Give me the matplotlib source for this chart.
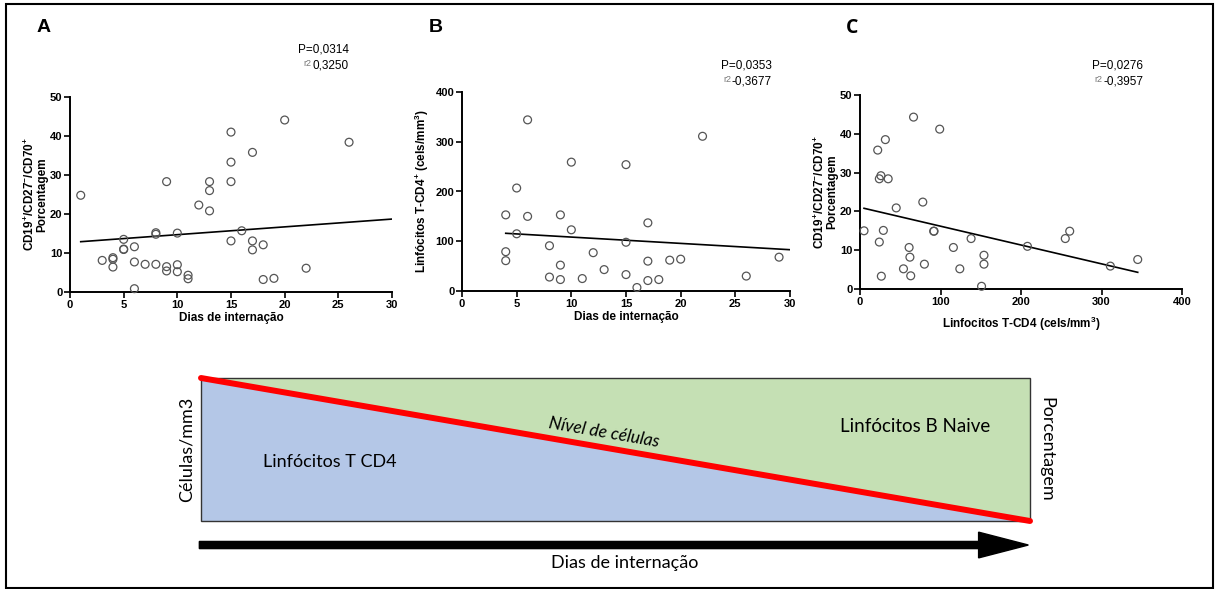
import numpy as np
import matplotlib
matplotlib.use('Agg')
import matplotlib.pyplot as plt
from matplotlib.patches import Polygon, Rectangle, FancyArrow

plt.rcParams['font.family'] = ['Liberation Sans', 'DejaVu Sans']
plt.rcParams['mathtext.default'] = 'regular'

# Panel A: days of hospitalization vs CD19+/CD27-/CD70+ (%)
a_days = [1, 3, 4, 4, 4, 5, 5, 5, 6, 6, 6, 7, 8, 8, 8, 9, 9, 9, 10, 10, 10, 11, 11,
          12, 13, 13, 13, 15, 15, 15, 15, 16, 17, 17, 17, 18, 18, 19, 20, 22, 26]
a_pct = [24.8, 8.1, 8.8, 8.4, 6.4, 13.5, 10.9, 11.0, 11.6, 7.7, 0.85, 7.1, 15.2, 14.8, 7.1,
         28.3, 6.5, 5.4, 15.1, 7.0, 5.2, 4.3, 3.4, 22.3, 28.3, 26.0, 20.8, 41.0, 33.3,
         28.3, 13.1, 15.7, 35.8, 13.1, 10.8, 12.1, 3.2, 3.5, 44.1, 6.1, 38.4]
a_fit_x = [1, 30]
a_fit_y = [12.9, 18.7]

# Panel B: days of hospitalization vs T-CD4 lymphocytes (cells/mm3)
b_days = [4, 4, 4, 5, 5, 6, 6, 8, 8, 9, 9, 9, 10, 10, 11, 12, 13, 15, 15, 15,
          16, 17, 17, 17, 18, 19, 20, 22, 26, 29]
b_cd4 = [153, 79, 61, 207, 115, 344, 150, 91, 28, 153, 52, 23, 259, 123, 25, 77, 43,
         254, 98, 33, 7, 137, 60, 21, 23, 62, 64, 311, 30, 68]
b_fit_x = [4, 30]
b_fit_y = [116, 83]

# Panel C: T-CD4 lymphocytes vs CD19+/CD27-/CD70+ (%)
c_cd4 = [5, 22, 24, 24, 26, 26.5, 29, 31.5, 35, 45, 54, 61, 62, 63, 66.5, 78, 80,
         91.5, 92, 99, 116, 124, 138, 151, 154, 154, 208, 255, 260.5, 311, 345]
c_pct = [15.0, 35.8, 12.1, 28.4, 29.2, 3.3, 15.1, 38.5, 28.4, 20.9, 5.2, 10.7, 8.2,
         3.4, 44.3, 22.4, 6.4, 14.9, 14.9, 41.2, 10.7, 5.2, 13.0, 0.7, 8.7, 6.4, 11.0,
         13.0, 14.9, 5.9, 7.6]
c_fit_x = [5, 345]
c_fit_y = [20.8, 4.3]

W, H = 1217, 589
fig = plt.figure(figsize=(W / 100, H / 100), dpi=100)


def px_axes(left, top, right, bottom):
    return fig.add_axes([left / W, 1 - bottom / H, (right - left) / W, (bottom - top) / H])


def style(ax):
    for s in ['top', 'right']:
        ax.spines[s].set_visible(False)
    for s in ['left', 'bottom']:
        ax.spines[s].set_linewidth(1.4)
    ax.tick_params(direction='out', length=4, width=1.2, pad=1.5, labelsize=8)
    for lab in ax.get_xticklabels() + ax.get_yticklabels():
        lab.set_fontweight('bold')


def scatter_panel(ax, x, y, fx, fy):
    ax.scatter(x, y, s=32, facecolors='none', edgecolors='#555555', linewidths=0.9,
               clip_on=False, zorder=3)
    ax.plot(fx, fy, color='black', lw=1.2, zorder=2)


ylab_ab = 'CD19$^{+}$/CD27$^{-}$/CD70$^{+}$\nPorcentagem'

# ---- Panel A
axA = px_axes(70, 97, 392, 292)
scatter_panel(axA, a_days, a_pct, a_fit_x, a_fit_y)
axA.set_xlim(0, 30)
axA.set_ylim(0, 50)
axA.set_xticks(range(0, 31, 5))
axA.set_yticks(range(0, 51, 10))
style(axA)
axA.set_xlabel('Dias de internação', fontsize=8.5, fontweight='bold', labelpad=2)
axA.set_ylabel(ylab_ab, fontsize=8.5, fontweight='bold', labelpad=1, linespacing=0.9)

# ---- Panel B
axB = px_axes(462, 92, 790, 291)
scatter_panel(axB, b_days, b_cd4, b_fit_x, b_fit_y)
axB.set_xlim(0, 30)
axB.set_ylim(0, 400)
axB.set_xticks(range(0, 31, 5))
axB.set_yticks(range(0, 401, 100))
style(axB)
axB.set_xlabel('Dias de internação', fontsize=8.5, fontweight='bold', labelpad=2)
axB.set_ylabel('Linfócitos T-CD4$^{+}$ (cels/mm$^{3}$)', fontsize=8.5,
               fontweight='bold', labelpad=3)

# ---- Panel C
axC = px_axes(860, 95, 1182, 289)
scatter_panel(axC, c_cd4, c_pct, c_fit_x, c_fit_y)
axC.set_xlim(0, 400)
axC.set_ylim(0, 50)
axC.set_xticks(range(0, 401, 100))
axC.set_yticks(range(0, 51, 10))
style(axC)
axC.set_xlabel('Linfocitos T-CD4 (cels/mm$^{3}$)', fontsize=8.5, fontweight='bold',
               labelpad=6)
axC.set_ylabel(ylab_ab, fontsize=8.5, fontweight='bold', labelpad=1, linespacing=0.9)

# panel letters
fig.text(44 / W, 1 - 28 / H, 'A', fontsize=14, fontweight='bold', va='center', ha='center')
fig.text(436 / W, 1 - 28 / H, 'B', fontsize=14, fontweight='bold', va='center', ha='center')
fig.text(852 / W, 1 - 28 / H, 'C', fontsize=14, fontweight='bold', va='center', ha='center',
         family=['Open Sans', 'DejaVu Sans'])

# statistics
stats = [(349, 50, 'P=0,0314', '0,3250'),
         (772, 66, 'P=0,0353', '-0,3677'),
         (1143, 66, 'P=0,0276', '-0,3957')]
for xr, yp, ptxt, rtxt in stats:
    fig.text(xr / W, 1 - yp / H, ptxt, fontsize=8.5, ha='right', va='center')
    t = fig.text(xr / W, 1 - (yp + 15) / H, rtxt, fontsize=8.5, ha='right', va='center')
    fig.canvas.draw()
    bb = t.get_window_extent()
    fig.text((bb.x0 - 1) / W, 1 - (yp + 13) / H, 'r2', fontsize=6.5, ha='right',
             va='center', color='#777777')

# ---- Schematic diagram
axD = px_axes(201, 378, 1030, 521)
axD.set_xlim(0, 1)
axD.set_ylim(0, 1)
axD.axis('off')
axD.add_patch(Polygon([[0, 0], [0, 1], [1, 0]], closed=True, facecolor='#b4c7e7',
                      edgecolor='none'))
axD.add_patch(Polygon([[0, 1], [1, 1], [1, 0]], closed=True, facecolor='#c5e0b4',
                      edgecolor='none'))
axD.add_patch(Rectangle((0, 0), 1, 1, fill=False, edgecolor='#333333', lw=1.0,
                        clip_on=False, zorder=4))
axD.plot([0, 1], [1, 0], color='#ff0000', lw=4.3, solid_capstyle='round', clip_on=False,
         zorder=5)

dfont = ['Lato', 'DejaVu Sans']
axD.text(0.155, 0.41, 'Linfócitos T CD4', fontsize=13, family=dfont, ha='center',
         va='center')
axD.text(0.861, 0.66, 'Linfócitos B Naive', fontsize=13.5, family=dfont, ha='center',
         va='center')
axD.text(0.486, 0.62, 'Nível de células', fontsize=12.5, family=dfont, style='italic',
         ha='center', va='center', rotation=-9.8)
axD.text(-0.017, 0.5, 'Células/mm3', fontsize=13, family=dfont, rotation=90,
         ha='center', va='center')
axD.text(1.02, 0.5, 'Porcentagem', fontsize=13, family=dfont, rotation=-90,
         ha='center', va='center')
axD.add_patch(FancyArrow(-0.002, -0.168, 1.0, 0, width=0.05, head_width=0.18,
                         head_length=0.06, length_includes_head=True, color='black',
                         clip_on=False))
axD.text(0.511, -0.295, 'Dias de internação', fontsize=13, family=dfont, ha='center',
         va='center')

# outer frame
fig.patches.append(Rectangle((6 / W, 1 / H), (1213 - 6) / W, (H - 5) / H,
                             transform=fig.transFigure, fill=False,
                             edgecolor='black', lw=1.5))

fig.savefig('out.png', dpi=100)
